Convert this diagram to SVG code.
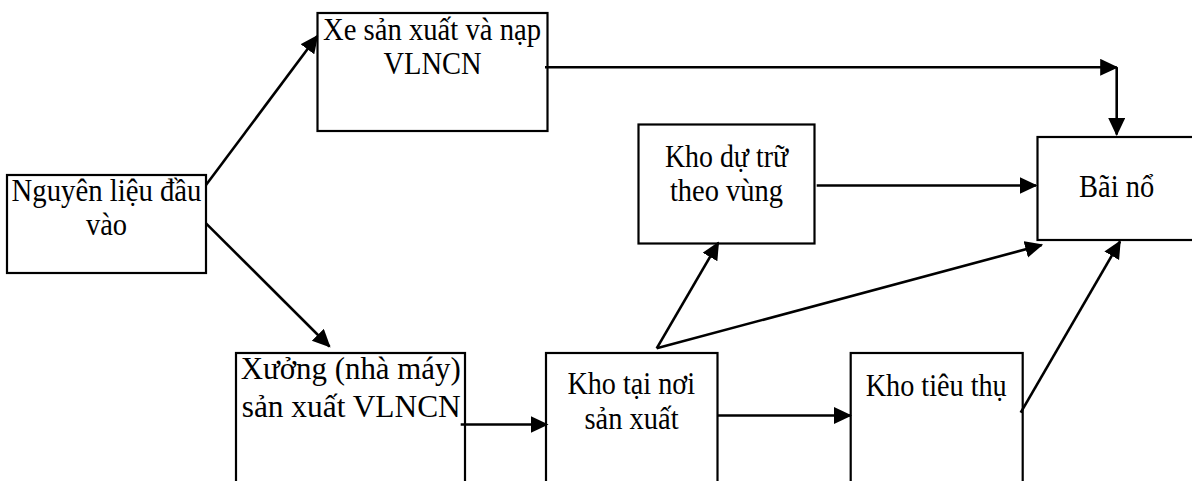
<svg xmlns="http://www.w3.org/2000/svg" width="1192" height="481" viewBox="0 0 1192 481">
  <style>
    .box { fill: #ffffff; stroke: #000000; stroke-width: 2.2; }
    .lbl { font-family: "Liberation Serif", "Times New Roman", serif; font-size: 28.5px; fill: #000000; text-anchor: middle; }
    .conn { stroke: #000000; stroke-width: 2.6; fill: none; marker-end: url(#arrow); }
  </style>
  <defs>
    <marker id="arrow" markerUnits="userSpaceOnUse" markerWidth="18" markerHeight="18" refX="16.5" refY="8.5" orient="auto">
      <path d="M0,0 L18,8.5 L0,17 z" fill="#000000"/>
    </marker>
  </defs>
  <rect x="0" y="0" width="1192" height="481" fill="#ffffff"/>

  <g id="node-nguyen-lieu">
    <rect class="box" x="7" y="175" width="199" height="98"/>
    <text class="lbl" transform="translate(106.5,200.5) scale(1,1.1)" textLength="190" lengthAdjust="spacingAndGlyphs">Nguyên liệu đầu</text>
    <text class="lbl" transform="translate(106.5,235) scale(1,1.1)">vào</text>
  </g>

  <g id="node-xe-san-xuat">
    <rect class="box" x="317.5" y="13" width="230" height="118"/>
    <text class="lbl" transform="translate(432,39.5) scale(1,1.1)" textLength="218" lengthAdjust="spacingAndGlyphs">Xe sản xuất và nạp</text>
    <text class="lbl" transform="translate(432.5,73.5) scale(1,1.1)">VLNCN</text>
  </g>

  <g id="node-kho-du-tru">
    <rect class="box" x="638.5" y="124.5" width="176" height="119"/>
    <text class="lbl" transform="translate(726.5,166.7) scale(1,1.1)" textLength="123" lengthAdjust="spacingAndGlyphs">Kho dự trữ</text>
    <text class="lbl" transform="translate(726.5,200.7) scale(1,1.1)">theo vùng</text>
  </g>

  <g id="node-bai-no">
    <rect class="box" x="1037.5" y="137" width="165" height="103"/>
    <text class="lbl" transform="translate(1116.7,196.7) scale(1,1.1)">Bãi nổ</text>
  </g>

  <g id="node-xuong">
    <rect class="box" x="236" y="353" width="229" height="140"/>
    <text class="lbl" transform="translate(350.7,379.3) scale(1,1.1)" textLength="220" lengthAdjust="spacingAndGlyphs">Xưởng (nhà máy)</text>
    <text class="lbl" transform="translate(351.2,417.3) scale(1,1.1)" textLength="219" lengthAdjust="spacingAndGlyphs">sản xuất VLNCN</text>
  </g>

  <g id="node-kho-tai-noi">
    <rect class="box" x="546" y="353" width="171.5" height="140"/>
    <text class="lbl" transform="translate(631.2,394) scale(1,1.1)" textLength="127.5" lengthAdjust="spacingAndGlyphs">Kho tại nơi</text>
    <text class="lbl" transform="translate(631.5,429.3) scale(1,1.1)">sản xuất</text>
  </g>

  <g id="node-kho-tieu-thu">
    <rect class="box" x="850.7" y="353" width="172" height="140"/>
    <text class="lbl" transform="translate(936.2,395.7) scale(1,1.1)" textLength="141" lengthAdjust="spacingAndGlyphs">Kho tiêu thụ</text>
  </g>

  <g id="connectors">
    <line class="conn" x1="206" y1="185" x2="317.3" y2="36"/>
    <line class="conn" x1="206" y1="223.3" x2="329.5" y2="346.5"/>
    <line class="conn" x1="545" y1="67.3" x2="1116.7" y2="67.3"/>
    <line class="conn" x1="1116.7" y1="67.3" x2="1116.7" y2="134.5"/>
    <line class="conn" x1="816.7" y1="185.5" x2="1036" y2="185.5"/>
    <line class="conn" x1="460.7" y1="424.5" x2="547" y2="424.5"/>
    <line class="conn" x1="717.3" y1="415.5" x2="850.5" y2="415.5"/>
    <line class="conn" x1="656.7" y1="348.3" x2="718.3" y2="242.7"/>
    <line class="conn" x1="656.7" y1="348.3" x2="1041.7" y2="245"/>
    <line class="conn" x1="1020.7" y1="412.7" x2="1120" y2="241.5"/>
  </g>
</svg>
